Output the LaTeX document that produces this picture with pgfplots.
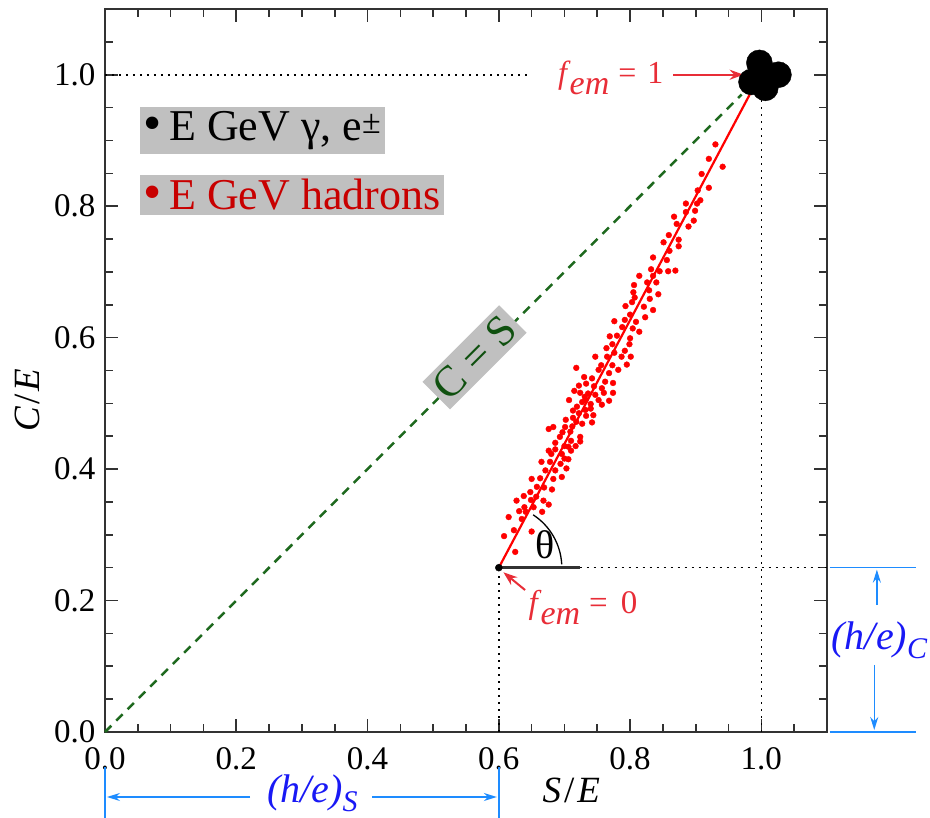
\documentclass[border=0pt]{standalone}
\usepackage{pgfplots}
\pgfplotsset{compat=1.18}
\usepackage{fontspec}
\setmainfont{Liberation Serif}
\usetikzlibrary{arrows.meta}
\definecolor{axgray}{RGB}{50,50,50}
\definecolor{dotred}{RGB}{255,0,0}
\definecolor{lblred}{RGB}{232,45,55}
\definecolor{legred}{RGB}{200,0,0}
\definecolor{dgreen}{RGB}{30,105,30}
\definecolor{tgreen}{RGB}{15,80,15}
\definecolor{boxgray}{RGB}{192,192,192}
\definecolor{tblue}{RGB}{25,25,245}
\definecolor{ablue}{RGB}{30,140,255}
\newcommand\fem{\textit{f}\kern-1pt\raisebox{-11pt}{\fontsize{34}{34}\selectfont\textit{em}}\kern9pt=\kern11pt}
\begin{document}
\begin{tikzpicture}
\path[use as bounding box] (-105pt,-86pt) rectangle (825pt,732pt);
\begin{axis}[
  at={(0,0)}, anchor=south west,
  width=722pt, height=723pt, scale only axis,
  xmin=0, xmax=1.1, ymin=0, ymax=1.1,
  clip=false,
  axis line style={axgray, line width=1.8pt},
  xtick={0,0.2,0.4,0.6,0.8,1.0},
  ytick={0,0.2,0.4,0.6,0.8,1.0},
  minor tick num=3,
  major tick length=13pt, minor tick length=8pt,
  xtick style={draw=axgray, line width=1.6pt},
  ytick style={draw=axgray, line width=1.6pt},
  tick align=inside,
  /pgf/number format/assume math mode=true,
  /pgf/number format/fixed,
  /pgf/number format/fixed zerofill,
  /pgf/number format/precision=1,
  ticklabel style={font=\fontsize{33}{36}\selectfont},
  xticklabel style={yshift=-12pt},
  yticklabel style={xshift=-6pt},
  xlabel={\textit{S}\kern3pt/\kern3pt\textit{E}},
  ylabel={\textit{C}\kern2pt/\kern2pt\textit{E}},
  label style={font=\fontsize{37}{40}\selectfont},
  xlabel style={at={(axis description cs:0.646,0)}, anchor=center, yshift=-58pt},
  ylabel style={at={(axis description cs:-0.108,0.459)}, anchor=center},
]
% tick marks on all four sides (drawn in axis coordinates)
\pgfplotsinvokeforeach{0,0.2,0.4,0.6,0.8,1.0}{
  \draw[axgray, line width=1.6pt] (axis cs:#1,0) -- ++(0,13pt);
  \draw[axgray, line width=1.6pt] (axis cs:#1,1.1) -- ++(0,-13pt);
  \draw[axgray, line width=1.6pt] (axis cs:0,#1) -- ++(13pt,0);
  \draw[axgray, line width=1.6pt] (axis cs:1.1,#1) -- ++(-13pt,0);
}
\pgfplotsinvokeforeach{0.05,0.1,0.15,0.25,0.3,0.35,0.45,0.5,0.55,0.65,0.7,0.75,0.85,0.9,0.95,1.05}{
  \draw[axgray, line width=1.6pt] (axis cs:#1,0) -- ++(0,8pt);
  \draw[axgray, line width=1.6pt] (axis cs:#1,1.1) -- ++(0,-8pt);
  \draw[axgray, line width=1.6pt] (axis cs:0,#1) -- ++(8pt,0);
  \draw[axgray, line width=1.6pt] (axis cs:1.1,#1) -- ++(-8pt,0);
}
% reference lines
\addplot[black, line width=1.6pt, dash pattern=on 2pt off 5pt] coordinates {(0,1.0) (0.649,1.0)};
\addplot[black, line width=1.6pt, dash pattern=on 2pt off 5pt] coordinates {(1.0,0) (1.0,0.962)};
\addplot[black, line width=1.6pt, dash pattern=on 2pt off 5pt] coordinates {(0.723,0.25) (1.1,0.25)};
\addplot[black, line width=1.6pt, dash pattern=on 2pt off 5pt] coordinates {(0.6,0) (0.6,0.25)};
\addplot[axgray, line width=3pt] coordinates {(0.6,0.25) (0.723,0.25)};
% hadron scatter
\addplot[only marks, mark=*, mark size=2.9pt, dotred, mark options={draw=none, fill=dotred}] coordinates {
(0.930,0.894) (0.920,0.872) (0.941,0.860) (0.909,0.849) (0.920,0.828) (0.903,0.824)
(0.907,0.809) (0.885,0.804) (0.902,0.804) (0.899,0.793) (0.885,0.791) (0.867,0.784)
(0.897,0.778) (0.871,0.773) (0.889,0.769)
(0.859,0.756) (0.874,0.749) (0.851,0.745) (0.874,0.739) (0.860,0.732) (0.835,0.722)
(0.856,0.718) (0.832,0.704) (0.845,0.701) (0.858,0.701) (0.869,0.702) (0.814,0.694)
(0.835,0.694) (0.826,0.684) (0.840,0.684) (0.806,0.680) (0.829,0.672) (0.805,0.669)
(0.843,0.666) (0.807,0.661) (0.830,0.659) (0.803,0.654) (0.793,0.648) (0.821,0.647)
(0.835,0.642) (0.800,0.635) (0.792,0.627) (0.823,0.631) (0.776,0.625) (0.809,0.624)
(0.788,0.616) (0.804,0.614)
(0.814,0.609) (0.769,0.602) (0.780,0.603) (0.800,0.599) (0.773,0.590) (0.799,0.590)
(0.764,0.584) (0.792,0.580) (0.776,0.577) (0.747,0.571) (0.765,0.571) (0.787,0.571)
(0.801,0.571) (0.756,0.558) (0.773,0.558) (0.795,0.559) (0.718,0.554) (0.752,0.551)
(0.782,0.551) (0.768,0.546) (0.730,0.540) (0.742,0.538) (0.762,0.533) (0.774,0.531)
(0.733,0.530) (0.722,0.527) (0.745,0.526) (0.715,0.519) (0.724,0.516) (0.757,0.523)
(0.736,0.515) (0.760,0.516) (0.774,0.516) (0.747,0.513) (0.731,0.510) (0.707,0.505)
(0.732,0.505) (0.752,0.505) (0.768,0.504) (0.727,0.502) (0.740,0.499) (0.757,0.498)
(0.719,0.495) (0.740,0.492) (0.713,0.489) (0.732,0.490) (0.722,0.485) (0.744,0.482)
(0.733,0.481) (0.702,0.475) (0.713,0.478) (0.718,0.472) (0.742,0.471) (0.727,0.469)
(0.683,0.464) (0.701,0.464) (0.712,0.465) (0.676,0.461)
(0.697,0.456) (0.709,0.457) (0.724,0.449) (0.693,0.449) (0.710,0.443) (0.724,0.442)
(0.686,0.440) (0.700,0.435) (0.717,0.435) (0.706,0.434) (0.676,0.428) (0.686,0.430)
(0.710,0.428) (0.680,0.423) (0.696,0.423) (0.700,0.416) (0.665,0.411) (0.678,0.411)
(0.706,0.415) (0.694,0.408) (0.686,0.398) (0.671,0.398) (0.703,0.401) (0.650,0.385)
(0.663,0.386) (0.683,0.385) (0.696,0.388) (0.658,0.373) (0.669,0.372) (0.681,0.369)
(0.648,0.365) (0.657,0.358) (0.638,0.359) (0.627,0.352) (0.649,0.353) (0.668,0.352)
(0.639,0.342) (0.676,0.346) (0.631,0.336) (0.653,0.342) (0.641,0.335) (0.666,0.335)
(0.615,0.327) (0.635,0.324) (0.623,0.307) (0.650,0.305) (0.608,0.298) (0.625,0.274)
};
% hadron line and C=S line
\addplot[dotred, line width=2.2pt] coordinates {(0.6,0.25) (0.985,0.975)};
\addplot[dgreen, line width=2.5pt, dash pattern=on 9pt off 7pt] coordinates {(0,0) (0.97,0.97)};
% em cluster
\addplot[only marks, mark=*, mark size=13pt, mark options={draw=none, fill=black}] coordinates {
(0.997,1.018) (1.026,1.0) (0.985,0.989) (1.006,0.980) (1.0,1.003)};
% f_em = 0 point
\addplot[only marks, mark=*, mark size=3.5pt, mark options={draw=none, fill=black}] coordinates {(0.6,0.25)};
% angle
\draw[black, line width=1.3pt] (axis cs:0.6,0.25) ++(3:63pt) arc[start angle=3, end angle=57, radius=63pt];
\node[font=\fontsize{40}{40}\selectfont] at (axis cs:0.671,0.285) {θ};
% labels
\node[fill=boxgray, rotate=45, text=tgreen, font=\fontsize{43}{44}\selectfont, inner xsep=5pt, inner ysep=5pt] at (axis cs:0.563,0.570) {C = S};
\node[fill=boxgray, anchor=west, inner xsep=4pt, inner ysep=4pt, text=black, font=\fontsize{44}{46}\selectfont] at (axis cs:0.053,0.915) {{\fontsize{52}{46}\selectfont•}\kern7pt E GeV γ, e\raisebox{7pt}{\fontsize{34}{34}\selectfont ±}};
\node[fill=boxgray, anchor=west, inner xsep=4pt, inner ysep=4pt, text=legred, font=\fontsize{44}{46}\selectfont] at (axis cs:0.053,0.817) {{\fontsize{52}{46}\selectfont•}\kern7pt E GeV hadrons};
\node[text=lblred, anchor=base east, inner sep=0pt, font=\fontsize{32}{36}\selectfont] at (axis cs:0.851,0.986) {\fem 1};
\draw[lblred, line width=2pt, -{Stealth[length=14pt,width=10pt]}] (axis cs:0.866,1.0) -- (axis cs:0.973,1.0);
\node[text=lblred, anchor=base west, inner sep=0pt, font=\fontsize{33}{36}\selectfont] at (axis cs:0.645,0.180) {\fem\kern2pt 0};
\draw[lblred, line width=2pt, -{Stealth[length=14pt,width=10pt]}] (axis cs:0.640,0.216) -- (axis cs:0.607,0.243);
% (h/e)_S
\draw[ablue, line width=1.5pt] ([yshift=-35pt]axis cs:0,0) -- ([yshift=-90pt]axis cs:0,0);
\draw[ablue, line width=1.5pt] ([yshift=-35pt]axis cs:0.6,0) -- ([yshift=-90pt]axis cs:0.6,0);
\draw[ablue, line width=1.5pt, -{Stealth[length=13pt,width=8pt]}] ([yshift=-65pt]axis cs:0.221,0) -- ([yshift=-65pt]axis cs:0.003,0);
\draw[ablue, line width=1.5pt, -{Stealth[length=13pt,width=8pt]}] ([yshift=-65pt]axis cs:0.407,0) -- ([yshift=-65pt]axis cs:0.597,0);
\node[text=tblue, anchor=base, font=\fontsize{40}{42}\selectfont] at ([yshift=-71pt]axis cs:0.316,0) {\textit{(h/e)}\raisebox{-9pt}{\fontsize{30}{30}\selectfont\textit{S}}};
% (h/e)_C
\draw[ablue, line width=1.5pt] (axis cs:1.104,0.25) -- (axis cs:1.236,0.25);
\draw[ablue, line width=1.5pt] (axis cs:1.104,0) -- (axis cs:1.236,0);
\draw[ablue, line width=1.5pt, -{Stealth[length=13pt,width=8pt]}] (axis cs:1.176,0.193) -- (axis cs:1.176,0.247);
\draw[ablue, line width=1.5pt, -{Stealth[length=13pt,width=8pt]}] (axis cs:1.172,0.102) -- (axis cs:1.172,0.003);
\node[text=tblue, anchor=base, font=\fontsize{40}{42}\selectfont] at (axis cs:1.180,0.125) {\textit{(h/e)}\raisebox{-9pt}{\fontsize{30}{30}\selectfont\textit{C}}};
\end{axis}
\end{tikzpicture}
\end{document}
